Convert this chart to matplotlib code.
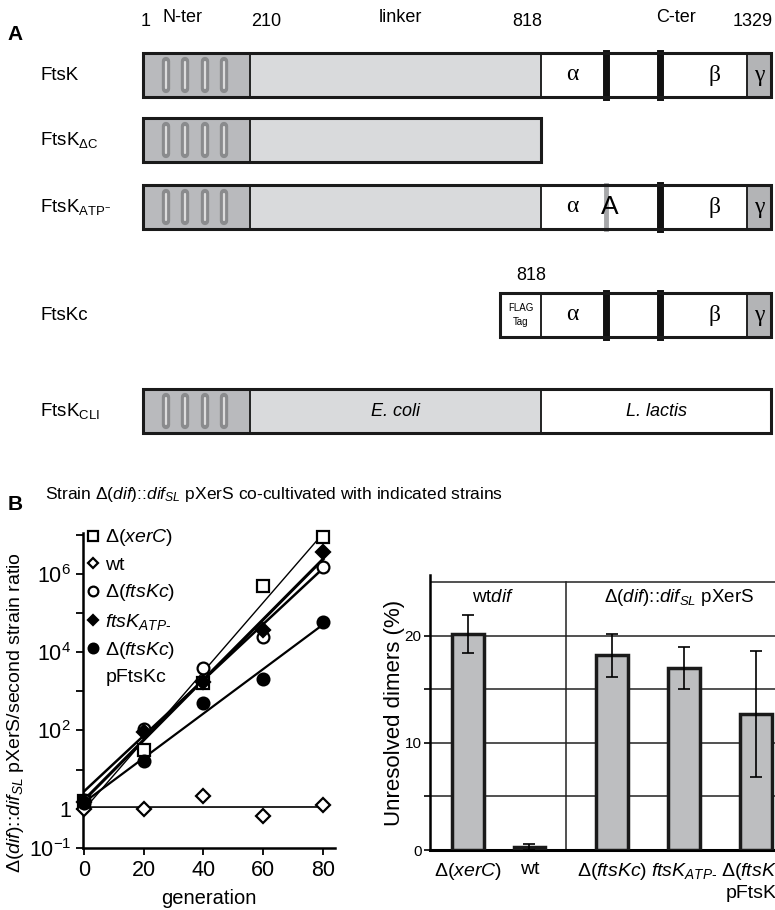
import numpy as np
import matplotlib.pyplot as plt
from matplotlib.patches import Rectangle
from matplotlib.lines import Line2D

plt.rcParams['font.family'] = ['Liberation Sans', 'DejaVu Sans']
plt.rcParams['mathtext.fontset'] = 'custom'
plt.rcParams['mathtext.rm'] = 'Liberation Sans'
plt.rcParams['mathtext.it'] = 'Liberation Sans:italic'
plt.rcParams['mathtext.bf'] = 'Liberation Sans:bold'

# ---------------- panel A data (schematic units) ----------------
construct_names = [r'FtsK', r'FtsK$_{\Delta\mathrm{C}}$', r'FtsK$_{\mathrm{ATP}^{-}}$',
                   'FtsKc', r'FtsK$_{\mathrm{CLI}}$']
construct_segments = [
    [('nter', 143, 250), ('linker', 250, 541), ('alpha', 541, 603), ('blank', 603, 660),
     ('beta', 660, 747), ('gamma', 747, 771)],
    [('nter', 143, 250), ('linker', 250, 541)],
    [('nter', 143, 250), ('linker', 250, 541), ('alpha', 541, 603), ('blank', 603, 660),
     ('beta', 660, 747), ('gamma', 747, 771)],
    [('flag', 500, 541), ('alpha', 541, 603), ('blank', 603, 660),
     ('beta', 660, 747), ('gamma', 747, 771)],
    [('nter', 143, 250), ('ecoli', 250, 541), ('llactis', 541, 771)],
]
construct_thin = [[250, 541, 747], [250], [250, 541, 747], [541, 747], [250, 541]]
construct_thick = [[606, 660], [], [660], [606, 660], []]
walker_a = [None, None, 606, None, None]
residue_marks = ['1', 'N-ter', '210', 'linker', '818', 'C-ter', '1329']
residue_pos = [146, 183, 266, 400, 527, 676, 753]

# ---------------- panel B data ----------------
gen = np.array([0, 20, 40, 60, 80])
ratio_xerc = [1.6, 32, 1600, 4.8e5, 8.5e6]
ratio_wt = [1.0, 1.0, 2.1, 0.64, 1.26]
ratio_ftskc = [1.7, 112, 4000, 2.5e4, 1.5e6]
ratio_atp = [1.5, 90, 1700, 3.6e4, 3.7e6]
ratio_pftskc = [1.4, 17, 490, 2100, 6e4]

bar_labels = [r'$\Delta$($\mathit{xerC}$)', 'wt', r'$\Delta$($\mathit{ftsKc}$)',
              r'$ftsK_{ATP\text{-}}$', 'Δ($\\mathit{ftsKc}$)\npFtsKc']
dimers = [20.2, 0.3, 18.2, 17.0, 12.7]
dimers_err = [1.8, 0.3, 2.0, 1.95, 5.9]

fig = plt.figure(figsize=(7.75, 9.10), dpi=100)

# ================= panel A =================
axa = fig.add_axes([0, 1 - 470 / 910, 1, 470 / 910])
axa.set_xlim(0, 775)
axa.set_ylim(470, 0)
axa.axis('off')

fills = {'nter': '#b9babd', 'linker': '#d9dadc', 'ecoli': '#d9dadc', 'alpha': 'white',
         'blank': 'white', 'beta': 'white', 'gamma': '#b3b4b6', 'flag': 'white',
         'llactis': 'white'}
row_y = [75, 140, 207, 315, 411]
bar_h = 44

for i, name in enumerate(construct_names):
    yc = row_y[i]
    top = yc - bar_h / 2
    axa.text(40, yc, name, fontsize=13.5, va='center', ha='left')
    segs = construct_segments[i]
    for kind, x0, x1 in segs:
        axa.add_patch(Rectangle((x0, top), x1 - x0, bar_h, facecolor=fills[kind],
                                edgecolor='none', zorder=1))
        xm = (x0 + x1) / 2
        if kind == 'alpha':
            axa.text(572, yc, 'α', fontsize=17, family='Liberation Serif', ha='center', va='center')
        elif kind == 'beta':
            axa.text(714, yc, 'β', fontsize=17, family='Liberation Serif', ha='center', va='center')
        elif kind == 'gamma':
            axa.text(xm, yc, 'γ', fontsize=17, family='Liberation Serif', ha='center', va='center')
        elif kind == 'flag':
            axa.text(xm, yc, 'FLAG\nTag', fontsize=7, ha='center', va='center', linespacing=1.5)
        elif kind == 'ecoli':
            axa.text(xm, yc, 'E. coli', fontsize=13, style='italic', ha='center', va='center')
        elif kind == 'llactis':
            axa.text(xm, yc, 'L. lactis', fontsize=13, style='italic', ha='center', va='center')
        elif kind == 'nter':
            for dx in [23, 42, 62, 81]:
                axa.plot([x0 + dx, x0 + dx], [top + 8, top + bar_h - 8], color='#8a8b8d',
                         lw=6, solid_capstyle='round', zorder=2)
                axa.plot([x0 + dx - 0.5, x0 + dx - 0.5], [top + 9, top + bar_h - 9],
                         color='#dcdcdc', lw=1.6, solid_capstyle='round', zorder=3)
    xs = segs[0][1]
    xe = segs[-1][2]
    for xb in construct_thin[i]:
        axa.plot([xb, xb], [top, top + bar_h], color='#222222', lw=1.4, zorder=4)
    for xb in construct_thick[i]:
        axa.plot([xb, xb], [top, top + bar_h], color='#111111', lw=5, zorder=4)
    if walker_a[i] is not None:
        axa.plot([walker_a[i], walker_a[i]], [top, top + bar_h], color='#a6a7a9', lw=3.5, zorder=4)
        axa.text(walker_a[i] + 4, yc, 'A', fontsize=19, ha='center', va='center', zorder=5)
    axa.add_patch(Rectangle((xs, top), xe - xs, bar_h, facecolor='none',
                            edgecolor='#1a1a1a', lw=2.2, zorder=6))

for lab, xp in zip(residue_marks, residue_pos):
    yy = 22 if lab[0].isdigit() else 18
    axa.text(xp, yy, lab, fontsize=13, ha='center', va='center')
axa.text(531, 275, '818', fontsize=13, ha='center', va='center')
axa.text(15, 35, 'A', fontsize=15, fontweight='bold', ha='center', va='center')

# ================= panel B title =================
fig.text(15 / 775, 1 - 505 / 910, 'B', fontsize=15, fontweight='bold', ha='center', va='center')
fig.text(45 / 775, 1 - 495 / 910,
         r'Strain $\Delta$($\mathit{dif}$)::$dif_{SL}$ pXerS co-cultivated with indicated strains',
         fontsize=12.5, ha='left', va='center')

# ================= left plot =================
ax1 = fig.add_axes([83 / 775, 1 - 848 / 910, (335 - 83) / 775, (848 - 533) / 910])
ax1.set_yscale('log')
ax1.set_ylim(0.1, 1.1e7)
ax1.set_xlim(-0.3, 84)

series = [
    (ratio_xerc, 's', 'white', r'$\Delta$($\mathit{xerC}$)', 1.0),
    (ratio_wt, 'D', 'white', 'wt', 1.2),
    (ratio_ftskc, 'o', 'white', r'$\Delta$($\mathit{ftsKc}$)', 1.8),
    (ratio_atp, 'D', 'black', r'$ftsK_{ATP\text{-}}$', 2.2),
    (ratio_pftskc, 'o', 'black', r'$\Delta$($\mathit{ftsKc}$)', 1.6),
]
handles = []
labels = []
for vals, mk, fc, lab, lw in series:
    coef = np.polyfit(gen, np.log10(vals), 1)
    xx = np.array([gen[0], gen[-1]])
    ax1.plot(xx, 10 ** np.polyval(coef, xx), color='black', lw=lw, zorder=2)
    ms = 7 if mk == 'D' else 8.5
    ax1.plot(gen, vals, linestyle='none', marker=mk, ms=ms, mfc=fc, mec='black', mew=1.6,
             zorder=3, clip_on=False)
    handles.append(Line2D([], [], linestyle='none', marker=mk, ms=ms - 1.5, mfc=fc,
                          mec='black', mew=1.6))
    labels.append(lab)
handles.append(Line2D([], [], linestyle='none'))
labels.append('pFtsKc')
ax1.legend(handles, labels, loc='upper left', bbox_to_anchor=(0.0, 1.03), frameon=False,
           fontsize=14, handlelength=0.6, handletextpad=0.35, labelspacing=0.42,
           borderaxespad=0, borderpad=0.2)

for s in ['top', 'right']:
    ax1.spines[s].set_visible(False)
for s in ['left', 'bottom']:
    ax1.spines[s].set_linewidth(1.8)
yt = [10.0 ** k for k in range(-1, 8)]
ax1.set_yticks(yt)
ax1.set_yticklabels(['$10^{-1}$', '1', '', '$10^{2}$', '', '$10^{4}$', '', '$10^{6}$', ''])
ax1.yaxis.set_minor_locator(plt.NullLocator())
ax1.set_xticks([0, 20, 40, 60, 80])
ax1.tick_params(axis='both', labelsize=15.5, width=1.3, length=5, direction='out')
ax1.set_xlabel('generation', fontsize=14.5, labelpad=6)
ax1.set_ylabel(r'$\Delta$($\mathit{dif}$)::$dif_{SL}$ pXerS/second strain ratio', fontsize=14,
               labelpad=2)
ax1.yaxis.set_label_coords(-0.228, 0.43)

# ================= right bar chart =================
ax2 = fig.add_axes([430 / 775, 1 - 850 / 910, (775 - 430) / 775, (850 - 575) / 910])
pos = [0, 0.85, 2, 3, 4]
ax2.bar(pos, dimers, width=0.44, color='#bdbec0', edgecolor='#1a1a1a', lw=2.5, zorder=3,
        yerr=dimers_err, error_kw=dict(ecolor='black', elinewidth=1.2, capsize=4, capthick=1.2))
ax2.set_xlim(-0.53, 4.26)
ax2.set_ylim(0, 25.7)
for gy in [5, 10, 15, 20, 25]:
    ax2.axhline(gy, color='#222222', lw=1.1, zorder=1)
ax2.plot([1.36, 1.36], [0, 25], color='#222222', lw=1.1, zorder=1)
ax2.text(0.35, 23.6, r'wt$\mathit{dif}$', fontsize=13.5, ha='center', va='center')
ax2.text(2.93, 23.6, r'$\Delta$($\mathit{dif}$)::$dif_{SL}$ pXerS', fontsize=13.5,
         ha='center', va='center')
for s in ['top', 'right']:
    ax2.spines[s].set_visible(False)
ax2.spines['left'].set_linewidth(1.8)
ax2.spines['bottom'].set_linewidth(2.2)
ax2.set_yticks([0, 5, 10, 15, 20])
ax2.set_yticklabels(['0', '', '10', '', '20'])
ax2.tick_params(axis='y', labelsize=11, length=4, width=1.2, pad=2)
ax2.set_xticks(pos)
ax2.set_xticklabels(bar_labels, fontsize=14)
ax2.tick_params(axis='x', length=0, pad=8)
ax2.set_ylabel('Unresolved dimers (%)', fontsize=16, labelpad=0)

fig.savefig('out.png', dpi=100)
